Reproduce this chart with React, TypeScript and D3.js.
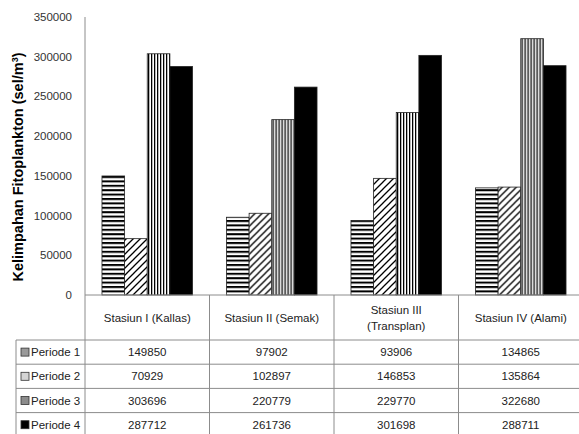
import * as d3 from 'd3';

const stations = ['Stasiun I (Kallas)', 'Stasiun II (Semak)', 'Stasiun III (Transplan)', 'Stasiun IV (Alami)'];
const headerLines = [['Stasiun I (Kallas)'], ['Stasiun II (Semak)'], ['Stasiun III', '(Transplan)'], ['Stasiun IV (Alami)']];
const periods = ['Periode 1', 'Periode 2', 'Periode 3', 'Periode 4'];
const periode1 = [149850, 97902, 93906, 134865];
const periode2 = [70929, 102897, 146853, 135864];
const periode3 = [303696, 220779, 229770, 322680];
const periode4 = [287712, 261736, 301698, 288711];
const seriesValues = [periode1, periode2, periode3, periode4];
const yTicks = [0, 50000, 100000, 150000, 200000, 250000, 300000, 350000];

const FILLS = ['url(#pHoriz)', 'url(#pDiag)', 'url(#pVert)', '#000'];
const KEY_FILLS = ['#9a9a9a', '#d4d4d4', '#8c8c8c', '#000'];
const TABLE_FONT = '"Liberation Sans Narrow", "Liberation Sans", Arial, sans-serif';

export default function App() {
  const W = 579;
  const H = 434;
  const left = 85;
  const catW = 124.5;
  const baseY = 295;

  const x = d3.scaleBand<string>().domain(stations).range([left, left + catW * 4]).paddingInner(0).paddingOuter(0);
  const xs = d3.scaleBand<string>().domain(periods).range([0, x.bandwidth()]).paddingInner(0).paddingOuter(0.75);
  const y = d3.scaleLinear().domain([0, 350000]).range([baseY, 17]);

  const headerBottom = 340;
  const rowH = 24.2;
  const legendLeft = 16;
  const gridColor = '#8c8c8c';

  return (
    <svg width={W} height={H} style={{ position: 'absolute', left: 0, top: 0, background: '#fff' }}>
      <defs>
        <pattern id="pHoriz" width={6} height={4.4} patternUnits="userSpaceOnUse">
          <rect width={6} height={4.4} fill="#fff" />
          <rect y={0} width={6} height={1.8} fill="#000" />
          <rect y={1.8} width={6} height={0.6} fill="#999" />
        </pattern>
        <pattern id="pDiag" width={7} height={7} patternUnits="userSpaceOnUse">
          <rect width={7} height={7} fill="#fff" />
          <path d="M-1,8 L8,-1 M-2,2 L2,-2 M5,9 L9,5" stroke="#000" strokeWidth={1.3} />
        </pattern>
        <pattern id="pVert" width={3} height={6} patternUnits="userSpaceOnUse">
          <rect width={3} height={6} fill="#fff" />
          <rect x={0} width={1.2} height={6} fill="#000" />
          <rect x={1.2} width={0.6} height={6} fill="#aaa" />
        </pattern>
      </defs>

      {/* y axis label */}
      <text
        transform={`translate(23,167) rotate(-90)`}
        textAnchor="middle"
        fontFamily="Liberation Sans, Arial, sans-serif"
        fontWeight="bold"
        fontSize={14.5}
        fill="#000"
      >
        Kelimpahan Fitoplankton (sel/m<tspan dy={-5} fontSize={9}>3</tspan><tspan dy={5}>)</tspan>
      </text>

      {/* y ticks */}
      {yTicks.map((t) => (
        <text key={t} x={72} y={y(t) + 4} textAnchor="end" fontFamily="Liberation Sans, Arial, sans-serif" fontSize={11.5} fill="#333">
          {t}
        </text>
      ))}

      {/* bars */}
      {stations.map((s, i) => (
        <g key={s} transform={`translate(${x(s)},0)`}>
          {periods.map((p, j) => {
            const v = seriesValues[j][i];
            return (
              <rect
                key={p}
                x={xs(p)}
                y={y(v)}
                width={xs.bandwidth()}
                height={baseY - y(v)}
                fill={FILLS[j]}
                stroke="#222"
                strokeWidth={0.8}
              />
            );
          })}
        </g>
      ))}

      {/* axes */}
      <line x1={left} x2={left} y1={17} y2={baseY} stroke={gridColor} />
      <line x1={left} x2={W} y1={baseY} y2={baseY} stroke={gridColor} />

      {/* table grid */}
      {stations.map((s) => (
        <line key={s} x1={(x(s) ?? 0) + catW} x2={(x(s) ?? 0) + catW} y1={baseY} y2={H} stroke={gridColor} />
      ))}
      <line x1={left} x2={left} y1={baseY} y2={H} stroke={gridColor} />
      <line x1={legendLeft} x2={legendLeft} y1={headerBottom} y2={H} stroke={gridColor} />
      {periods.map((p, j) => (
        <line key={p} x1={legendLeft} x2={W} y1={headerBottom + j * rowH} y2={headerBottom + j * rowH} stroke={gridColor} />
      ))}

      {/* header */}
      {stations.map((s, i) => {
        const cx = (x(s) ?? 0) + catW / 2;
        const lines = headerLines[i];
        const cy = (baseY + headerBottom) / 2;
        return (
          <text key={s} textAnchor="middle" fontFamily={TABLE_FONT} fontSize={11.5} fill="#222">
            {lines.map((ln, k) => (
              <tspan key={k} x={cx} y={cy + 4 + (k - (lines.length - 1) / 2) * 16}>
                {ln}
              </tspan>
            ))}
          </text>
        );
      })}

      {/* rows */}
      {periods.map((p, j) => {
        const cy = headerBottom + j * rowH + rowH / 2;
        return (
          <g key={p}>
            <rect x={21} y={cy - 4} width={8} height={8} fill={KEY_FILLS[j]} stroke="#333" strokeWidth={0.8} />
            <text x={31} y={cy + 4} fontFamily={TABLE_FONT} fontSize={11.5} fill="#222">
              {p}
            </text>
            {stations.map((s, i) => (
              <text key={s} x={(x(s) ?? 0) + catW / 2} y={cy + 4} textAnchor="middle" fontFamily={TABLE_FONT} fontSize={11.5} fill="#222">
                {seriesValues[j][i]}
              </text>
            ))}
          </g>
        );
      })}
    </svg>
  );
}
